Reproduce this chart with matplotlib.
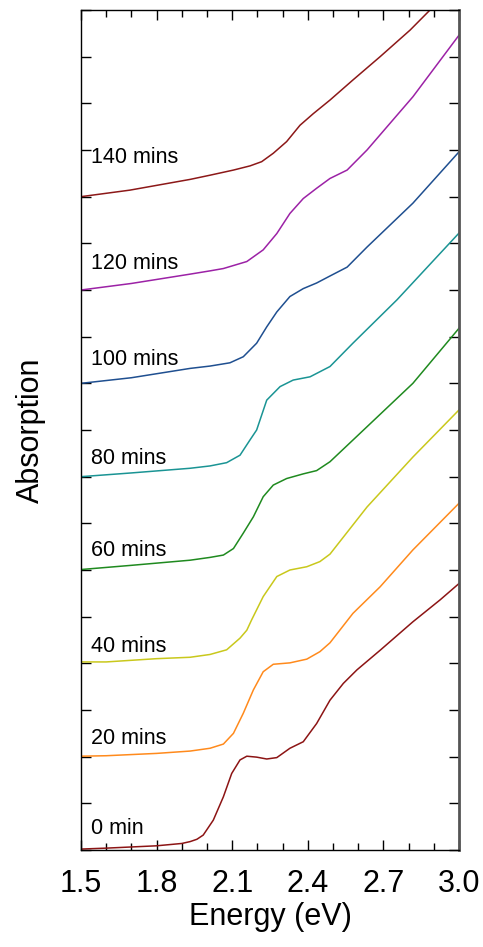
import numpy as np
import matplotlib.pyplot as plt
from matplotlib.ticker import MultipleLocator

plt.rcParams['font.family'] = ['Liberation Sans', 'DejaVu Sans']

# energy (eV) / absorption (offset, a.u.)
x_0 = [1.5, 1.6, 1.8, 1.9, 1.933, 1.96, 1.985, 2.025, 2.065, 2.098, 2.131, 2.158, 2.197, 2.237,
       2.277, 2.329, 2.382, 2.435, 2.488, 2.541, 2.595, 2.687, 2.817, 2.925, 3.0]
y_0 = [0.02, 0.04, 0.09, 0.14, 0.18, 0.23, 0.32, 0.64, 1.14, 1.64, 1.93, 2.01, 1.99, 1.95,
       1.98, 2.18, 2.32, 2.71, 3.21, 3.57, 3.86, 4.28, 4.89, 5.36, 5.71]

x_20 = [1.5, 1.6, 1.8, 1.933, 2.012, 2.065, 2.105, 2.144, 2.184, 2.223, 2.263, 2.329, 2.396,
        2.448, 2.488, 2.579, 2.687, 2.817, 3.0]
y_20 = [2.01, 2.02, 2.07, 2.12, 2.18, 2.27, 2.50, 2.93, 3.43, 3.82, 3.98, 4.01, 4.09,
        4.25, 4.44, 5.07, 5.64, 6.43, 7.43]

x_40 = [1.5, 1.6, 1.8, 1.933, 2.012, 2.078, 2.131, 2.158, 2.177, 2.223, 2.277, 2.329, 2.396,
        2.448, 2.488, 2.635, 2.817, 3.0]
y_40 = [4.03, 4.03, 4.10, 4.13, 4.19, 4.29, 4.54, 4.71, 4.93, 5.43, 5.86, 6.0, 6.07,
        6.18, 6.34, 7.35, 8.42, 9.43]

x_60 = [1.5, 1.7, 1.933, 2.012, 2.065, 2.105, 2.144, 2.184, 2.223, 2.263, 2.316, 2.382, 2.435,
        2.488, 2.635, 2.817, 3.0]
y_60 = [6.01, 6.10, 6.21, 6.27, 6.32, 6.46, 6.79, 7.14, 7.57, 7.82, 7.96, 8.06, 8.13,
        8.32, 9.07, 10.0, 11.18]

x_80 = [1.5, 1.7, 1.933, 2.012, 2.078, 2.131, 2.171, 2.197, 2.237, 2.290, 2.342, 2.409, 2.488,
        2.579, 2.754, 3.0]
y_80 = [8.0, 8.08, 8.18, 8.23, 8.30, 8.46, 8.79, 9.0, 9.64, 9.93, 10.07, 10.14, 10.36,
        10.86, 11.79, 13.22]

x_100 = [1.5, 1.7, 1.933, 2.012, 2.091, 2.144, 2.197, 2.237, 2.277, 2.329, 2.382, 2.435, 2.488,
         2.556, 2.635, 2.817, 3.0]
y_100 = [10.0, 10.12, 10.32, 10.37, 10.44, 10.57, 10.86, 11.21, 11.53, 11.86, 12.03, 12.15, 12.30,
         12.49, 12.92, 13.86, 14.96]

x_120 = [1.5, 1.7, 1.933, 2.012, 2.065, 2.158, 2.223, 2.277, 2.329, 2.382, 2.435, 2.488, 2.556,
         2.635, 2.817, 3.0]
y_120 = [12.0, 12.14, 12.34, 12.41, 12.46, 12.61, 12.86, 13.21, 13.64, 13.96, 14.18, 14.39, 14.57,
         15.0, 16.14, 17.46]

x_140 = [1.5, 1.694, 1.933, 2.012, 2.105, 2.171, 2.217, 2.263, 2.316, 2.369, 2.422, 2.488, 2.579,
         2.687, 2.806, 2.885, 3.0]
y_140 = [14.0, 14.14, 14.37, 14.46, 14.57, 14.66, 14.75, 14.93, 15.18, 15.53, 15.78, 16.07, 16.5,
         17.0, 17.57, 18.0, 18.65]

labels = ['0 min', '20 mins', '40 mins', '60 mins', '80 mins', '100 mins', '120 mins', '140 mins']
label_y = [0.45, 2.40, 4.37, 6.41, 8.40, 10.52, 12.56, 14.83]
colors = ['#8c1414', '#ff8a1c', '#c9c81c', '#1f8a1f', '#1a9494', '#1f4f90', '#9c22a6', '#8c1818']

xs = [x_0, x_20, x_40, x_60, x_80, x_100, x_120, x_140]
ys = [y_0, y_20, y_40, y_60, y_80, y_100, y_120, y_140]

fig = plt.figure(figsize=(4.83, 9.47), dpi=100)
ax = fig.add_axes([81 / 483, 1 - 850 / 947, 378 / 483, 840 / 947])

for x, y, c, lab, ly in zip(xs, ys, colors, labels, label_y):
    ax.plot(x, y, color=c, linewidth=1.1, solid_joinstyle='round')
    ax.text(1.54, ly, lab, fontsize=15.5, va='center', ha='left')

ax.set(xlim=[1.5, 3.0], ylim=[0, 18])
ax.xaxis.set_minor_locator(MultipleLocator(0.1))
ax.yaxis.set_major_locator(MultipleLocator(1))
ax.set_xticks([1.5, 1.8, 2.1, 2.4, 2.7, 3.0])
ax.set_xticklabels(['1.5', '1.8', '2.1', '2.4', '2.7', '3.0'])
ax.set_yticklabels([])
ax.tick_params(axis='x', which='major', direction='in', top=True, length=7.5, width=1,
               labelsize=22, pad=14)
ax.tick_params(axis='x', which='minor', direction='in', top=True, length=5, width=1)
ax.tick_params(axis='y', which='major', direction='in', right=True, length=7.5, width=1)
for s in ['left', 'bottom', 'top']:
    ax.spines[s].set_linewidth(1)
ax.spines['right'].set_linewidth(2)
ax.spines['right'].set_color('#555555')

ax.set_xlabel('Energy (eV)', fontsize=22, labelpad=2)
ax.set_ylabel('Absorption', fontsize=22, labelpad=22)

plt.savefig('out.png', dpi=100)
